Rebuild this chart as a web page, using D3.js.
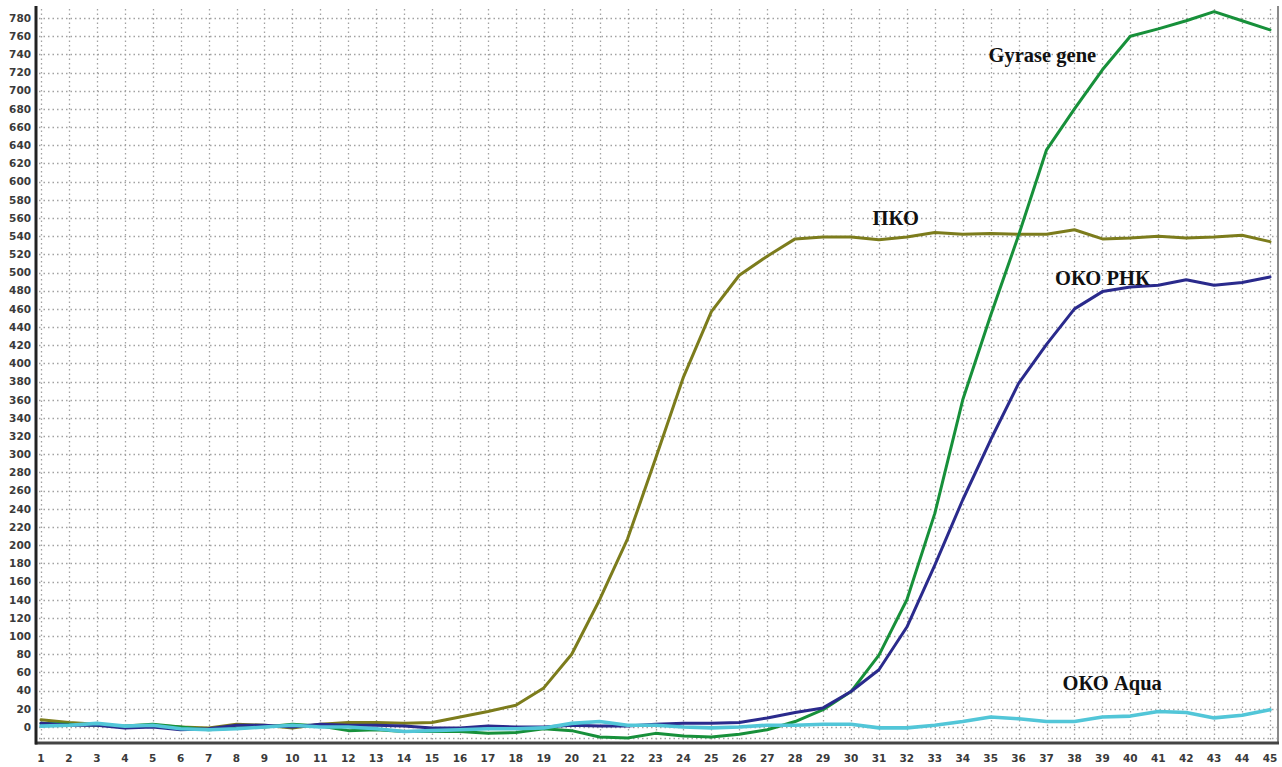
<!DOCTYPE html>
<html>
<head>
<meta charset="utf-8">
<script src="https://cdn.jsdelivr.net/npm/d3@7"></script>
<style>
  html, body { margin: 0; padding: 0; background: #fff; }
  svg { display: block; }
</style>
</head>
<body>
<svg id="chart" width="1282" height="767"></svg>
<script>
// Amplification cycles (x axis)
const cycles = [1,2,3,4,5,6,7,8,9,10,11,12,13,14,15,16,17,18,19,20,21,22,23,24,25,26,27,28,29,30,31,32,33,34,35,36,37,38,39,40,41,42,43,44,45];

// Fluorescence per cycle for each reaction
const pko    = [8,5,3,0,2,0,-1,3,2,-1, 3,5,5,4,5,11,17,24,43,80, 140,207,295,385,457,497,518,537,539,539, 536,539,544,542,543,542,542,547,537,538, 540,538,539,541,534];
const gyrase = [4,3,2,1,3,0,-3,-1,0,3, 1,-4,-3,-5,-5,-5,-7,-6,-2,-4, -11,-12,-7,-10,-11,-8,-3,6,19,39, 79,140,235,360,453,541,635,680,723,760, 768,777,787,777,767];
const okoRnk = [4,2,2,-1,0,-3,-2,2,2,0, 3,2,2,1,-1,-1,1,0,0,2, 1,1,3,4,4,5,10,16,21,39, 63,110,178,250,316,378,421,460,479,484, 486,492,486,489,495];
const okoAqua = [1,2,4,1,2,-2,-3,-2,0,2, 0,0,-2,-5,-4,-3,-2,-2,-1,4, 6,2,2,0,-1,0,2,2,3,3, -1,-1,2,6,11,9,6,6,11,12, 17,16,10,13,19];

const seriesNames  = ["ПКО", "Gyrase gene", "ОКО РНК", "ОКО Aqua"];
const seriesValues = [pko, gyrase, okoRnk, okoAqua];
const seriesColors = ["#7c7c1c", "#17903a", "#2a2a8c", "#52c6d8"];
const seriesWidths = [3, 3, 3, 3.6];

// Curve labels, placed in data coordinates [cycle, value]
const labelCycles = [31.6, 36.85, 39.0, 39.35];
const labelValues = [552, 732, 486, 41];

const yTicks = d3.range(0, 781, 20);

const svg = d3.select("#chart");
const W = 1282, H = 767;
const plotLeft = 36, plotRight = 1278, plotTop = 6, plotBottom = 743;

const x = d3.scaleLinear().domain([1, 45]).range([41, 1270]);
const y = d3.scaleLinear().domain([0, 780]).range([727, 18]);

svg.append("rect").attr("width", W).attr("height", H).attr("fill", "#fff");

// dotted grid
const grid = svg.append("g")
  .attr("stroke", "#a2a2a2")
  .attr("stroke-width", 1.3)
  .attr("stroke-dasharray", "1.5,3");

grid.selectAll("line.h")
  .data(yTicks.concat([-12]))
  .join("line")
  .attr("class", "h")
  .attr("x1", plotLeft + 3).attr("x2", plotRight - 1)
  .attr("y1", d => Math.round(y(d)) + 0.5)
  .attr("y2", d => Math.round(y(d)) + 0.5);

grid.selectAll("line.v")
  .data(cycles)
  .join("line")
  .attr("class", "v")
  .attr("y1", plotTop + 3).attr("y2", plotBottom - 2)
  .attr("x1", d => Math.round(x(d)) + 0.5)
  .attr("x2", d => Math.round(x(d)) + 0.5);

// curves
const line = d3.line()
  .x((d, i) => x(cycles[i]))
  .y(d => y(d));

svg.append("g")
  .selectAll("path")
  .data(seriesValues)
  .join("path")
  .attr("d", d => line(d))
  .attr("fill", "none")
  .attr("stroke", (d, i) => seriesColors[i])
  .attr("stroke-width", (d, i) => seriesWidths[i])
  .attr("stroke-linejoin", "round")
  .attr("stroke-linecap", "round");

// frame
svg.append("line").attr("x1", plotRight).attr("x2", plotRight).attr("y1", plotTop).attr("y2", plotBottom + 1)
  .attr("stroke", "#8a8a8a").attr("stroke-width", 2);
svg.append("line").attr("x1", plotLeft - 1).attr("x2", plotRight + 1).attr("y1", plotBottom).attr("y2", plotBottom)
  .attr("stroke", "#444").attr("stroke-width", 3);
svg.append("line").attr("x1", plotLeft).attr("x2", plotLeft).attr("y1", plotTop).attr("y2", plotBottom + 1.5)
  .attr("stroke", "#222").attr("stroke-width", 3);

// y axis labels
svg.append("g")
  .attr("font-family", "DejaVu Sans, Verdana, sans-serif")
  .attr("font-weight", "bold")
  .attr("font-size", 10.5)
  .attr("fill", "#3a3a3a")
  .attr("text-anchor", "end")
  .selectAll("text")
  .data(yTicks)
  .join("text")
  .attr("x", 31)
  .attr("y", d => y(d))
  .attr("dy", "0.36em")
  .text(d => d);

// x axis labels
svg.append("g")
  .attr("font-family", "DejaVu Sans, Verdana, sans-serif")
  .attr("font-weight", "bold")
  .attr("font-size", 10.5)
  .attr("fill", "#3a3a3a")
  .attr("text-anchor", "middle")
  .selectAll("text")
  .data(cycles)
  .join("text")
  .attr("x", d => x(d))
  .attr("y", 762)
  .text(d => d);

// curve labels
svg.append("g")
  .attr("font-family", "Liberation Serif, Times New Roman, serif")
  .attr("font-weight", "bold")
  .attr("font-size", 20.5)
  .attr("fill", "#111")
  .attr("text-anchor", "middle")
  .selectAll("text")
  .data(seriesNames)
  .join("text")
  .attr("x", (d, i) => x(labelCycles[i]))
  .attr("y", (d, i) => y(labelValues[i]))
  .text(d => d);
</script>
</body>
</html>
